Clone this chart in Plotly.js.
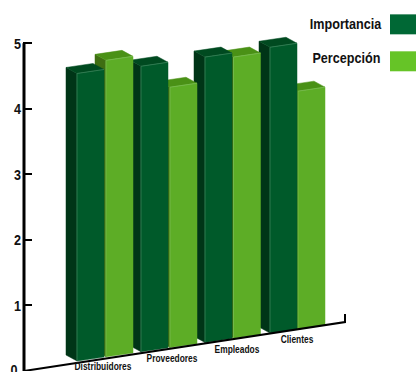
<!DOCTYPE html>
<html>
<head>
<meta charset="utf-8">
<script src="https://cdn.plot.ly/plotly-3.0.1.min.js"></script>
<style>html,body{margin:0;padding:0;background:#fff}</style>
</head>
<body>
<div id="chart" style="width:416px;height:372px"></div>
<script>
// Survey scores per stakeholder group
const categories = ['Distribuidores', 'Proveedores', 'Empleados', 'Clientes'];
const importancia = [4.54, 4.65, 4.79, 4.94];
const percepcion = [4.74, 4.33, 4.79, 4.27];
const tickLabels = ['0', '1', '2', '3', '4', '5'];
const tickValues = [0, 1, 2, 3, 4, 5];

// Oblique projection of the column solids (horizontal units are screen pixels)
const PX_PER_UNIT = 65.6;
const Y_MAX = 5.6;
const BAR_W = 27;
const RISE = 4 / PX_PER_UNIT;          // top edge climbs along the width
const DEPTH_X = -11;
const DEPTH_Y = 6 / PX_PER_UNIT;
const AXIS_X = 24;
const TICK_X = 22;
const importanciaX = [77, 141, 205, 270];
const percepcionX = [106, 170, 233.5, 298];
const labelX = [103, 172, 237, 297];
const labelY = [0.05, 0.17, 0.32, 0.46];
const FLOOR_Y0 = 10 / PX_PER_UNIT;     // front base height at the first column
const FLOOR_SLOPE = 0.145 / PX_PER_UNIT;

const dark = {front: '#005a2a', side: '#003517', top: '#004a20', edge: '#2f7a50'};
const light = {front: '#5dad26', side: '#3f6e12', top: '#4a9116', edge: '#74b84a'};
const SWATCH_DARK = '#006835';
const SWATCH_LIGHT = '#66c427';
const INK = '#111';
const FONT = 'Liberation Sans';
const CONDENSE = 0.84;

const baseAt = x => FLOOR_Y0 + (x - 77) * FLOOR_SLOPE;

function face(xs, ys, fill) {
  return {
    type: 'scatter', mode: 'lines', x: xs, y: ys, fill: 'toself', fillcolor: fill,
    line: {width: 0.5, color: fill}, cliponaxis: false, hoverinfo: 'skip', showlegend: false
  };
}
function edge(xs, ys, color) {
  return {
    type: 'scatter', mode: 'lines', x: xs, y: ys, line: {width: 1, color: color},
    cliponaxis: false, hoverinfo: 'skip', showlegend: false
  };
}
function column(x, value, c) {
  const b = baseAt(x), r = x + BAR_W, rb = baseAt(r);
  const bx = x + DEPTH_X, rx = r + DEPTH_X;
  return [
    face([bx, x, x, bx, bx], [b + DEPTH_Y, b, value, value + DEPTH_Y, b + DEPTH_Y], c.side),
    face([bx, rx, r, x, bx], [value + DEPTH_Y, value + RISE + DEPTH_Y, value + RISE, value, value + DEPTH_Y], c.top),
    face([x, r, r, x, x], [b, rb, value + RISE, value, b], c.front),
    edge([x, x, r], [b, value, value + RISE], c.edge)
  ];
}

// Paint from right to left: nearer columns sit on the left of the view
let traces = [];
for (let i = categories.length - 1; i >= 0; i--) {
  traces = traces.concat(column(percepcionX[i], percepcion[i], light));
  traces = traces.concat(column(importanciaX[i], importancia[i], dark));
}

// Value axis spine, stopping at the last tick
traces.push({
  type: 'scatter', mode: 'lines', x: [AXIS_X, AXIS_X], y: [0, 5],
  line: {width: 3, color: '#000'}, cliponaxis: false, hoverinfo: 'skip', showlegend: false
});
// Floor line with its closing tick
traces.push({
  type: 'scatter', mode: 'lines', x: [AXIS_X, 345, 345], y: [0, 49 / PX_PER_UNIT, 57 / PX_PER_UNIT],
  line: {width: 2, color: '#000'}, cliponaxis: false, hoverinfo: 'skip', showlegend: false
});
// Category names along the floor
traces.push({
  type: 'scatter', mode: 'text', x: labelX, y: labelY, text: categories,
  textposition: 'middle center', textfont: {family: FONT, size: 10, color: INK, weight: 700},
  cliponaxis: false, hoverinfo: 'skip', showlegend: false
});
// Zero label sits on the page edge, where the axis would drop it
traces.push({
  type: 'scatter', mode: 'text', x: [14], y: [0], text: [tickLabels[0]],
  textposition: 'middle center', textfont: {family: FONT, size: 15, color: INK, weight: 700},
  cliponaxis: false, hoverinfo: 'skip', showlegend: false
});

const plotH = Y_MAX * PX_PER_UNIT;
const yPaper = py => (371 - py) / plotH;

const layout = {
  width: 416, height: 372,
  margin: {l: 0, r: 0, t: 371 - plotH, b: 1},
  paper_bgcolor: '#fff', plot_bgcolor: '#fff',
  showlegend: false,
  xaxis: {range: [0, 416], visible: false, fixedrange: true},
  yaxis: {
    range: [0, Y_MAX], anchor: 'free', position: TICK_X / 416, side: 'left',
    tickmode: 'array', tickvals: tickValues.slice(1), ticktext: tickLabels.slice(1),
    ticks: 'inside', ticklen: 9, tickwidth: 2, tickcolor: '#000',
    showline: false, showgrid: false, zeroline: false,
    tickfont: {family: FONT, size: 15, color: INK, weight: 700},
    ticklabelstandoff: 1,
    fixedrange: true
  },
  shapes: [
    {type: 'rect', xref: 'paper', yref: 'paper', x0: 390 / 416, x1: 1, y0: yPaper(34), y1: yPaper(14), fillcolor: SWATCH_DARK, line: {width: 0}},
    {type: 'rect', xref: 'paper', yref: 'paper', x0: 390 / 416, x1: 1, y0: yPaper(71), y1: yPaper(51), fillcolor: SWATCH_LIGHT, line: {width: 0}}
  ],
  annotations: [
    {xref: 'paper', yref: 'paper', x: 346 / 416, y: yPaper(23), xanchor: 'center', yanchor: 'middle', showarrow: false, text: 'Importancia', font: {family: FONT, size: 15, color: INK, weight: 700}},
    {xref: 'paper', yref: 'paper', x: 346.5 / 416, y: yPaper(57), xanchor: 'center', yanchor: 'middle', showarrow: false, text: 'Percepción', font: {family: FONT, size: 15, color: INK, weight: 700}}
  ]
};

// The lettering is a condensed bold: squeeze each label about its own anchor
function condenseText() {
  document.querySelectorAll('#chart svg text').forEach(t => {
    const len = t.getComputedTextLength();
    if (len > 0) {
      t.setAttribute('textLength', (len * CONDENSE).toFixed(2));
      t.setAttribute('lengthAdjust', 'spacingAndGlyphs');
    }
  });
}

Plotly.newPlot('chart', traces, layout, {displayModeBar: false, staticPlot: true}).then(condenseText);
</script>
</body>
</html>
